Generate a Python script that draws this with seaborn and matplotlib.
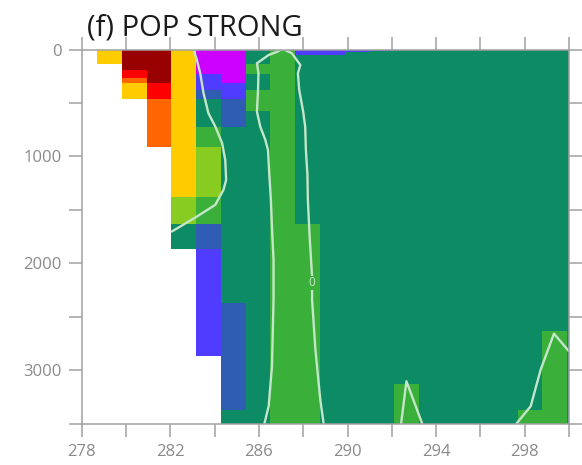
import numpy as np
import pandas as pd
import matplotlib
matplotlib.use("Agg")
import matplotlib.pyplot as plt
from matplotlib.colors import ListedColormap, BoundaryNorm
import seaborn as sns

# cell edges: longitude (deg E) and depth (m)
lon_edges = [278.70, 279.82, 280.94, 282.05, 283.17, 284.29, 285.40, 286.52,
             287.63, 288.75, 289.87, 290.98, 292.10, 293.21, 294.33, 295.44,
             296.56, 297.68, 298.79, 299.91, 301.00]
depth_edges = [0, 10, 25, 50, 135, 192, 225, 263, 316, 378, 460, 580, 724,
               910, 1380, 1629, 1870, 2372, 2633, 2869, 3131, 3375, 3500]

# one string per depth band, one letter per longitude cell ('.' = no data)
cell_rows = [
    "yDDyMMTGBBBBTTTTTTTT",
    "yDDyMMTGBBBTTTTTTTTT",
    "yDDyMMTGBBTTTTTTTTTT",
    "yDDyMMTGTTTTTTTTTTTT",
    ".DDyMMGGTTTTTTTTTTTT",
    ".rDyMMGGTTTTTTTTTTTT",
    ".rDyBMTGTTTTTTTTTTTT",
    ".oDyBMTGTTTTTTTTTTTT",
    ".yryBBTGTTTTTTTTTTTT",
    ".yrySBGGTTTTTTTTTTTT",
    "..oyTSGGTTTTTTTTTTTT",
    "..oyTSTGTTTTTTTTTTTT",
    "..oyGTTGTTTTTTTTTTTT",
    "...ygTTGTTTTTTTTTTTT",
    "...gGTTGTTTTTTTTTTTT",
    "...TSTTGGTTTTTTTTTTT",
    "....BTTGGTTTTTTTTTTT",
    "....BSTGGTTTTTTTTTTT",
    "....BSTGGTTTTTTTTTGT",
    ".....STGGTTTTTTTTTGT",
    ".....STGGTTTGTTTTTGT",
    ".....TTGGTTTGTTTTGGT",
]
class_codes = "DroygGTSBM"
class_colors = ["#990000", "#ff0000", "#ff6600", "#ffcc00", "#88cc22",
                "#3aaf3a", "#0c8b64", "#2f5db4", "#4f3cff", "#cc00ff"]

# zero contour
left_lon = [282.07, 283.20, 284.03, 284.40, 284.52, 284.48, 284.34, 284.03,
            283.72, 283.50, 283.35, 283.20, 283.05]
left_depth = [1703, 1563, 1453, 1313, 1220, 1033, 877, 721, 596, 409, 222, 98, 0]

mid_lon = [286.25, 286.44, 286.59, 286.66, 286.66, 286.60, 286.54, 286.47,
           286.41, 286.29, 286.06, 285.91, 285.96, 285.98, 285.91, 286.44,
           286.82, 286.96, 287.08, 287.19, 287.49, 287.87, 287.76, 287.82,
           288.00, 288.09, 288.12, 288.19, 288.21, 288.28, 288.40, 288.40,
           288.55, 288.77, 288.92]
mid_depth = [3500, 3338, 2964, 2341, 1967, 1715, 1407, 1173, 939, 846, 721,
             581, 379, 222, 129, 51, 21, 5, 0, 5, 36, 145, 222, 379, 584,
             724, 939, 1173, 1407, 1715, 2126, 2341, 2808, 3276, 3500]

bump_lon = [292.42, 292.66, 293.37]
bump_depth = [3500, 3105, 3500]

right_lon = [297.63, 298.27, 298.72, 299.32, 300.00]
right_depth = [3500, 3338, 2996, 2659, 2824]

label_lon, label_depth = 288.40, 2182

lines = pd.concat([
    pd.DataFrame({"lon": left_lon, "depth": left_depth, "seg": 0}),
    pd.DataFrame({"lon": mid_lon, "depth": mid_depth, "seg": 1}),
    pd.DataFrame({"lon": bump_lon, "depth": bump_depth, "seg": 2}),
    pd.DataFrame({"lon": right_lon, "depth": right_depth, "seg": 3}),
])

sns.set_theme(style="white")
plt.rcParams["font.family"] = ["Open Sans", "DejaVu Sans"]

fig = plt.figure(figsize=(5.82, 4.65), dpi=100)
ax = fig.add_axes([0.1404, 0.0892, 0.8373, 0.8043])

codes = np.array([[class_codes.find(ch) for ch in row] for row in cell_rows], float)
codes[codes < 0] = np.nan
cmap = ListedColormap(class_colors)
norm = BoundaryNorm(np.arange(-0.5, len(class_colors)), cmap.N)
ax.pcolormesh(lon_edges, depth_edges, np.ma.masked_invalid(codes),
              cmap=cmap, norm=norm)

line_col = "#c4e6c8"
sns.lineplot(data=lines, x="lon", y="depth", units="seg", estimator=None,
             sort=False, color=line_col, linewidth=1.7, ax=ax)
ax.text(label_lon, label_depth, "0", fontsize=8.5, color=line_col,
        ha="center", va="center",
        bbox=dict(facecolor="#3aaf3a", edgecolor="none", pad=0.4))

ax.set_xlim(278, 300)
ax.set_ylim(3500, 0)
xt = list(range(278, 301, 2))
ax.set_xticks(xt)
ax.set_xticklabels([str(v) if (v - 278) % 4 == 0 else "" for v in xt])
yt = list(range(0, 3501, 500))
ax.set_yticks(yt)
ax.set_yticklabels([str(v) if v % 1000 == 0 else "" for v in yt])
ax.set_xlabel("")
ax.set_ylabel("")

grey = "#a0a0a0"
ax.tick_params(which="both", top=True, right=True, bottom=True, left=True,
               direction="out", length=9.7, width=1.1, color=grey,
               labelcolor="#8a8a8a", labelsize=12, pad=5)
for sp in ax.spines.values():
    sp.set_color(grey)
    sp.set_linewidth(1.1)

fig.text(87 / 582, 1 - 35 / 465, "(f) POP STRONG", fontsize=21,
         color="#1a1a1a", ha="left", va="baseline")

fig.savefig("out.png", dpi=100)
